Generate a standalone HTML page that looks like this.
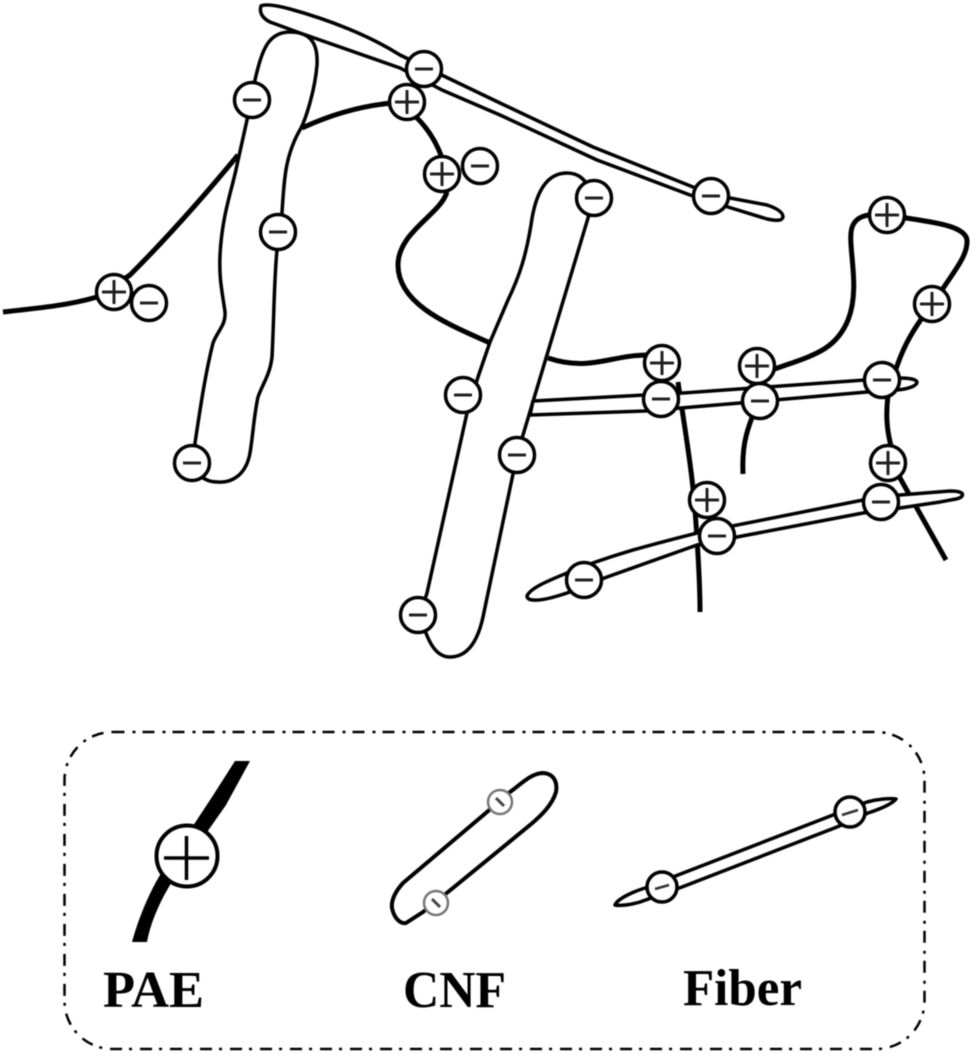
<!DOCTYPE html>
<html><head><meta charset="utf-8"><style>
html,body{margin:0;padding:0;background:#fff}
svg{display:block;filter:blur(.6px)}
.c{fill:#fff;stroke:#000;stroke-width:3.500}
.s{fill:none;stroke:#222;stroke-width:3}
.p{fill:none;stroke:#000;stroke-width:5;stroke-linecap:butt;stroke-linejoin:round}
.o{fill:#fff;stroke:#000;stroke-width:3.500;stroke-linejoin:round}
text{font-family:"Liberation Serif",serif;font-weight:bold;font-size:52px;fill:#000}
</style></head><body>
<svg width="975" height="1056" viewBox="0 0 975 1056" xmlns="http://www.w3.org/2000/svg">
<rect width="975" height="1056" fill="#fff"/>

<!-- PAE chains -->
<path class="p" d="M3 312C40 308 70 305 97 297L130 275C165 240 205 195 238 155"/>
<path class="p" d="M302 128C330 115 360 106 392 103C412 108 432 130 442 158"/>
<path class="p" d="M447 192C440 215 398 232 398 265C398 305 450 325 490 343"/>
<path class="p" d="M548 358C590 372 610 355 648 355"/>
<path class="p" d="M772 370C810 356 835 352 848 320C862 285 845 240 853 225C857 217 865 215 875 214"/>
<path class="p" d="M900 217C930 222 965 225 967 240C968 255 955 270 942 290"/>
<path class="p" d="M922 318C910 335 902 350 895 372"/>
<path class="p" d="M888 395C885 420 888 435 892 450L900 478L946 560"/>
<path class="p" d="M678 382C685 430 692 470 695 510C698 550 700 585 700 612"/>
<path class="p" d="M753 415C745 435 742 450 743 474"/>

<!-- CNF -->
<path class="o" d="M255 80C262 50 268 32 290 32C312 32 318 45 317 65C315 90 306 118 301 128C285 155 284 180 282 213L277 250C274 280 274 320 272 357C270 375 262 385 258 397C254 415 253 435 250 453C246 475 232 483 218 482C210 482 206 480 200 476L195 443C200 410 205 375 213 343C218 330 226 325 225 312C222 290 219 280 220 255C222 215 232 190 237 165L247 120Z"/>
<path class="o" d="M594 198L517 455L483 617C478 640 468 657 450 657C437 657 428 645 420 614L427 593L467 413L478 377L490 342L508 300C520 275 526 255 531 225C535 195 545 173 567 173C578 173 586 178 594 198Z"/>

<!-- Fibers -->
<path class="o" d="M261 6C265 4 275 5 290 9C330 20 370 36 400 55L500 103L593 147L693 187L730 198L767 205C776 208 783 212 783 217C782 221 777 221 767 219L728 207L690 195L597 160L500 115L442 90L400 68L300 33L270 22C262 18 259 12 261 6Z"/>
<path class="o" d="M533 401L683 393L865 380L900 378C908 378 916 379 917 382C917 386 908 389 897 390L867 392L740 403L645 411L530 415Z"/>
<path class="o" d="M527 596C530 588 550 580 567 573C610 555 650 545 697 533L863 500L900 495L950 491C960 491 964 493 962 496C960 499 955 499 940 502L900 508L863 513L737 537L697 545L607 577L567 593C555 597 540 601 533 600C529 600 527 598 527 596Z"/>

<!-- Charges -->
<g transform="translate(424,69)"><circle class="c" r="17.5"/><path class="s" d="M-9 0H9"/></g>
<g transform="translate(407,102)"><circle class="c" r="17.5"/><path class="s" d="M-12 0H12M0-12V12"/></g>
<g transform="translate(252,100)"><circle class="c" r="17.5"/><path class="s" d="M-9 0H9"/></g>
<g transform="translate(278,232)"><circle class="c" r="17.5"/><path class="s" d="M-9 0H9"/></g>
<g transform="translate(442,174)"><circle class="c" r="17.5"/><path class="s" d="M-12 0H12M0-12V12"/></g>
<g transform="translate(480,166)"><circle class="c" r="17.5"/><path class="s" d="M-9 0H9"/></g>
<g transform="translate(114,292)"><circle class="c" r="17.5"/><path class="s" d="M-12 0H12M0-12V12"/></g>
<g transform="translate(149,303)"><circle class="c" r="17.5"/><path class="s" d="M-9 0H9"/></g>
<g transform="translate(594,198)"><circle class="c" r="17.5"/><path class="s" d="M-9 0H9"/></g>
<g transform="translate(711,196)"><circle class="c" r="17.5"/><path class="s" d="M-9 0H9"/></g>
<g transform="translate(887,215)"><circle class="c" r="17.5"/><path class="s" d="M-12 0H12M0-12V12"/></g>
<g transform="translate(932,304)"><circle class="c" r="17.5"/><path class="s" d="M-12 0H12M0-12V12"/></g>
<g transform="translate(662,363)"><circle class="c" r="17.5"/><path class="s" d="M-12 0H12M0-12V12"/></g>
<g transform="translate(757,366)"><circle class="c" r="17.5"/><path class="s" d="M-12 0H12M0-12V12"/></g>
<g transform="translate(661,399)"><circle class="c" r="17.5"/><path class="s" d="M-9 0H9"/></g>
<g transform="translate(760,401)"><circle class="c" r="17.5"/><path class="s" d="M-9 0H9"/></g>
<g transform="translate(882,380)"><circle class="c" r="17.5"/><path class="s" d="M-9 0H9"/></g>
<g transform="translate(517,455)"><circle class="c" r="17.5"/><path class="s" d="M-9 0H9"/></g>
<g transform="translate(463,395)"><circle class="c" r="17.5"/><path class="s" d="M-9 0H9"/></g>
<g transform="translate(888,463)"><circle class="c" r="17.5"/><path class="s" d="M-12 0H12M0-12V12"/></g>
<g transform="translate(881,502)"><circle class="c" r="17.5"/><path class="s" d="M-9 0H9"/></g>
<g transform="translate(707,500)"><circle class="c" r="17.5"/><path class="s" d="M-12 0H12M0-12V12"/></g>
<g transform="translate(717,536)"><circle class="c" r="17.5"/><path class="s" d="M-9 0H9"/></g>
<g transform="translate(584,580)"><circle class="c" r="17.5"/><path class="s" d="M-9 0H9"/></g>
<g transform="translate(192,463)"><circle class="c" r="17.5"/><path class="s" d="M-9 0H9"/></g>
<g transform="translate(418,615)"><circle class="c" r="17.5"/><path class="s" d="M-9 0H9"/></g>

<!-- Legend box -->
<rect x="64.5" y="732" width="860" height="317" rx="48" ry="48" fill="none" stroke="#000" stroke-width="2.500" stroke-dasharray="12 8 3 7"/>

<!-- Legend PAE -->
<path d="M235 761H250L226 805L205 835L170 885C158 905 150 925 147 942H132C138 920 148 895 160 875L185 838L212 797Z" fill="#000"/>
<circle cx="187" cy="856" r="30.5" fill="#fff" stroke="#000" stroke-width="4"/>
<path d="M164 858H209M186.500 836V880" fill="none" stroke="#000" stroke-width="3.500"/>

<!-- Legend CNF -->
<path d="M487 812L403 883C395 892 391 900 392 908C394 918 400 924 406 923L423 912L448 892L530 825C542 815 552 805 556 792C558 780 552 773 542 773C530 774 520 785 510 792Z" fill="#fff" stroke="#000" stroke-width="4" stroke-linejoin="round"/>
<circle cx="500" cy="802" r="12" fill="#fff" stroke="#777" stroke-width="2.500"/>
<path d="M496 798L504 806" stroke="#444" stroke-width="3"/>
<circle cx="436" cy="903" r="12" fill="#fff" stroke="#777" stroke-width="2.500"/>
<path d="M432 899L440 907" stroke="#444" stroke-width="3"/>

<!-- Legend Fiber -->
<path d="M678 875L833 815L867 802C878 799 890 798 896 799C892 804 880 809 868 813L837 827L682 887L640 902C630 905 620 906 615 905C618 898 635 891 648 887Z" fill="#fff" stroke="#000" stroke-width="3.500" stroke-linejoin="round"/>
<circle cx="662" cy="887" r="15" fill="#fff" stroke="#000" stroke-width="3.500"/>
<path d="M655 889L669 885" stroke="#333" stroke-width="2.500"/>
<circle cx="850" cy="812" r="15" fill="#fff" stroke="#000" stroke-width="3.500"/>
<path d="M842 815L858 810" stroke="#333" stroke-width="2.500"/>

<text x="103" y="1007" textLength="101" lengthAdjust="spacingAndGlyphs">PAE</text>
<text x="403" y="1007" textLength="103" lengthAdjust="spacingAndGlyphs">CNF</text>
<text x="683" y="1005" textLength="119" lengthAdjust="spacingAndGlyphs">Fiber</text>
</svg>
</body></html>
